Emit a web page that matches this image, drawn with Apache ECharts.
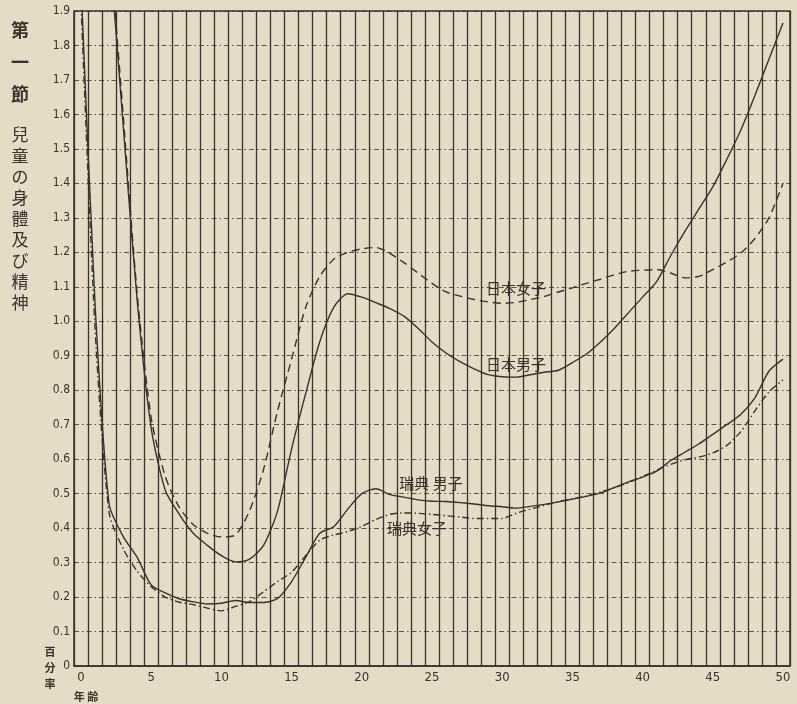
<!DOCTYPE html>
<html>
<head>
<meta charset="utf-8">
<title>兒童の身體及び精神</title>
<script src="https://cdn.jsdelivr.net/npm/echarts@6/dist/echarts.min.js"></script>
<style>
  html, body { margin: 0; padding: 0; background: #e5dbc7; }
  #main { width: 797px; height: 704px; }
</style>
</head>
<body>
<div id="main"></div>
<script>
// 年齢 0..50
var ages = ['0','1','2','3','4','5','6','7','8','9','10','11','12','13','14','15','16','17','18','19','20',
  '21','22','23','24','25','26','27','28','29','30','31','32','33','34','35','36','37','38','39','40',
  '41','42','43','44','45','46','47','48','49','50'];

// 百分率 (ages 0-1 of Japan are off the chart)
var japanMale = ['-','-',2.10,1.57,1.06,0.69,0.51,0.44,0.385,0.35,0.32,0.302,0.31,0.35,0.45,0.63,0.79,0.94,1.04,1.08,1.07,
  1.054,1.037,1.015,0.98,0.94,0.908,0.883,0.862,0.845,0.839,0.838,0.845,0.852,0.858,0.88,0.905,0.94,0.98,1.025,1.07,
  1.115,1.19,1.26,1.325,1.39,1.47,1.555,1.655,1.76,1.865];
var japanFemale = ['-','-',2.12,1.60,1.08,0.72,0.55,0.46,0.41,0.385,0.374,0.38,0.45,0.57,0.74,0.89,1.04,1.13,1.18,1.20,1.21,
  1.214,1.197,1.17,1.14,1.11,1.085,1.073,1.063,1.056,1.052,1.055,1.063,1.072,1.085,1.097,1.11,1.122,1.135,1.145,1.148,
  1.15,1.14,1.126,1.13,1.15,1.172,1.198,1.24,1.30,1.40];
var swedenMale = [1.98,1.05,0.47,0.376,0.315,0.235,0.212,0.195,0.186,0.18,0.182,0.19,0.184,0.184,0.196,0.245,0.315,0.385,0.404,0.455,0.50,
  0.514,0.497,0.49,0.482,0.478,0.477,0.474,0.47,0.465,0.462,0.458,0.463,0.469,0.476,0.484,0.492,0.502,0.518,0.534,0.548,
  0.565,0.596,0.62,0.644,0.672,0.70,0.73,0.778,0.855,0.89];
var swedenFemale = [1.92,0.98,0.445,0.34,0.275,0.23,0.20,0.185,0.178,0.168,0.16,0.173,0.187,0.215,0.245,0.272,0.32,0.365,0.38,0.39,0.405,
  0.425,0.44,0.444,0.443,0.44,0.436,0.432,0.428,0.428,0.428,0.443,0.455,0.466,0.477,0.485,0.493,0.505,0.517,0.532,0.55,
  0.568,0.585,0.598,0.606,0.618,0.64,0.68,0.74,0.795,0.83];

var ink = '#3a332b';
var paper = '#e5dbc7';
var numFont = '"Liberation Sans Narrow", "DejaVu Sans Condensed", "Liberation Sans", sans-serif';
var cjkFont = '"Noto Sans CJK JP", "Noto Sans CJK SC", sans-serif';

var myChart = echarts.init(document.getElementById('main'));

function line(name, data, type) {
  return {
    name: name,
    type: 'line',
    data: data,
    symbol: 'none',
    smooth: 0.25,
    clip: true,
    silent: true,
    lineStyle: { color: ink, width: 1.4, type: type }
  };
}

var option = {
  backgroundColor: paper,
  animation: false,
  grid: {
    left: 74, right: 7, top: 11, bottom: 38,
    show: true,
    borderColor: ink,
    borderWidth: 1.5
  },
  xAxis: {
    type: 'category',
    data: ages,
    boundaryGap: true,
    axisLine: { show: true, lineStyle: { color: ink, width: 1.5 } },
    axisTick: { show: false },
    axisLabel: { interval: 4, color: ink, fontSize: 13, fontFamily: numFont, margin: 5 },
    splitLine: { show: true, interval: 0, lineStyle: { color: ink, width: 1.3 } }
  },
  yAxis: {
    type: 'value',
    min: 0,
    max: 1.9,
    interval: 0.1,
    axisLine: { show: false },
    axisTick: { show: false },
    axisLabel: {
      color: ink, fontSize: 12, fontFamily: numFont, margin: 4,
      formatter: function (v) { return v === 0 ? '0' : v.toFixed(1); }
    },
    splitLine: { show: true, lineStyle: { color: ink, width: 1, type: [5, 3, 1.5, 3], opacity: 0.8 } }
  },
  graphic: [
    { type: 'text', x: 20, y: 14, style: { text: '第\n一\n節', fill: ink, font: 'bold 18px ' + cjkFont, lineHeight: 32, textAlign: 'center' } },
    { type: 'text', x: 20, y: 124, style: { text: '兒\n童\nの\n身\n體\n及\nび\n精\n神', fill: ink, font: '17px ' + cjkFont, lineHeight: 21, textAlign: 'center' } },
    { type: 'text', x: 50, y: 644, style: { text: '百\n分\n率', fill: ink, font: 'bold 11px ' + cjkFont, lineHeight: 16, textAlign: 'center' } },
    { type: 'text', x: 86, y: 691, style: { text: '年 齢', fill: ink, font: 'bold 11px ' + cjkFont, textAlign: 'center' } },
    { type: 'text', x: 516, y: 288, style: { text: '日本女子', fill: ink, font: '15px ' + cjkFont, textAlign: 'center', textVerticalAlign: 'middle' } },
    { type: 'text', x: 516, y: 364, style: { text: '日本男子', fill: ink, font: '15px ' + cjkFont, textAlign: 'center', textVerticalAlign: 'middle' } },
    { type: 'text', x: 431, y: 483, style: { text: '瑞典 男子', fill: ink, font: '15px ' + cjkFont, textAlign: 'center', textVerticalAlign: 'middle' } },
    { type: 'text', x: 417, y: 528, style: { text: '瑞典女子', fill: ink, font: '15px ' + cjkFont, textAlign: 'center', textVerticalAlign: 'middle' } }
  ],
  series: [
    line('日本男子', japanMale, 'solid'),
    line('日本女子', japanFemale, [8, 5]),
    line('瑞典男子', swedenMale, 'solid'),
    line('瑞典女子', swedenFemale, [7, 3, 1.5, 3])
  ]
};

myChart.setOption(option);
</script>
</body>
</html>
